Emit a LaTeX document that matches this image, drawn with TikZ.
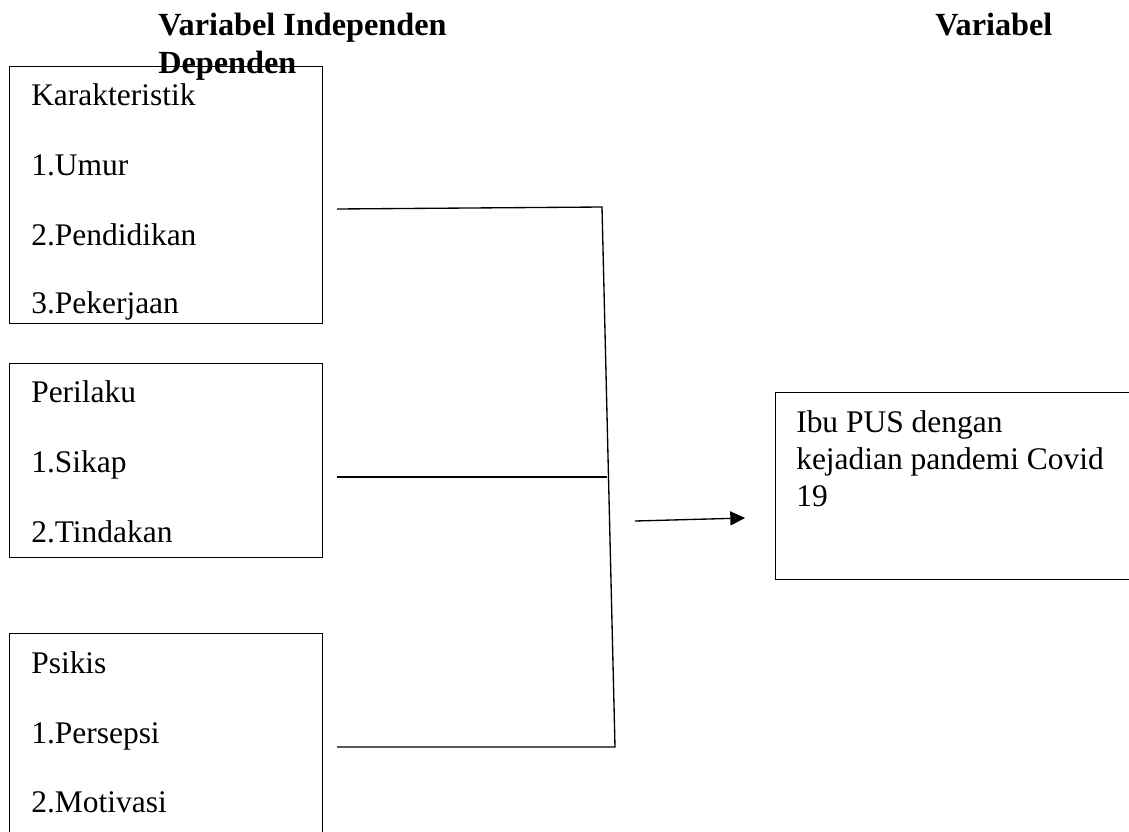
\documentclass[tikz,border=0pt]{standalone}
\usepackage{fontspec}
\setmainfont{Liberation Serif}
\usetikzlibrary{arrows.meta}
\begin{document}
\begin{tikzpicture}[x=0.75pt,y=-0.75pt,
  box/.style={draw,line width=1pt,anchor=north west,inner sep=0pt},
  lbl/.style={anchor=base west,inner sep=0pt,font=\fontsize{23.6}{28}\selectfont},
  hdr/.style={anchor=base west,inner sep=0pt,font=\fontsize{24.2}{28}\selectfont\bfseries},
  conn/.style={line width=1pt},
  arr/.style={line width=1pt,-{Triangle[length=11pt,width=10.5pt]}}]
\useasboundingbox (0,0) rectangle (1129,832);
\clip (0,0) rectangle (1129,832);
% headers
\node[hdr] (h1) at (158,35) {Variabel Independen};
\node[hdr] (h3) at (935,35) {Variabel};
% boxes
\node[box,minimum width=313*0.75pt,minimum height=257*0.75pt] (b1) at (9,66) {};
\node[box,minimum width=313*0.75pt,minimum height=194*0.75pt] (b2) at (9,363) {};
\node[box,minimum width=313*0.75pt,minimum height=220*0.75pt] (b3) at (9,633) {};
\node[box,minimum width=380*0.75pt,minimum height=187*0.75pt] (b4) at (775,392) {};
\node[hdr] (h2) at (158,73) {Dependen};
% box texts
\node[lbl] (t11) at (31,105) {Karakteristik};
\node[lbl] (t12) at (31,175) {1.Umur};
\node[lbl] (t13) at (31,245) {2.Pendidikan};
\node[lbl] (t14) at (31,313) {3.Pekerjaan};
\node[lbl] (t21) at (31,402) {Perilaku};
\node[lbl] (t22) at (31,472) {1.Sikap};
\node[lbl] (t23) at (31,542) {2.Tindakan};
\node[lbl] (t31) at (31,673) {Psikis};
\node[lbl] (t32) at (31,743) {1.Persepsi};
\node[lbl] (t33) at (31,812) {2.Motivasi};
\node[lbl] (t41) at (796,432) {Ibu PUS dengan};
\node[lbl] (t42) at (796,469) {kejadian pandemi Covid};
\node[lbl] (t43) at (796,506) {19};
% connectors
\coordinate (l1) at (337,209);
\coordinate (j1) at (602,207);
\coordinate (l2) at (337,477);
\coordinate (j2) at (607,477);
\coordinate (l3) at (337,747);
\coordinate (j3) at (615,747);
\coordinate (a0) at (635,521);
\coordinate (a1) at (745,518);
\draw[conn] (l1) -- (j1) -- (j3) -- (l3);
\draw[conn] (l2) -- (j2);
\draw[arr] (a0) -- (a1);
\end{tikzpicture}
\end{document}
